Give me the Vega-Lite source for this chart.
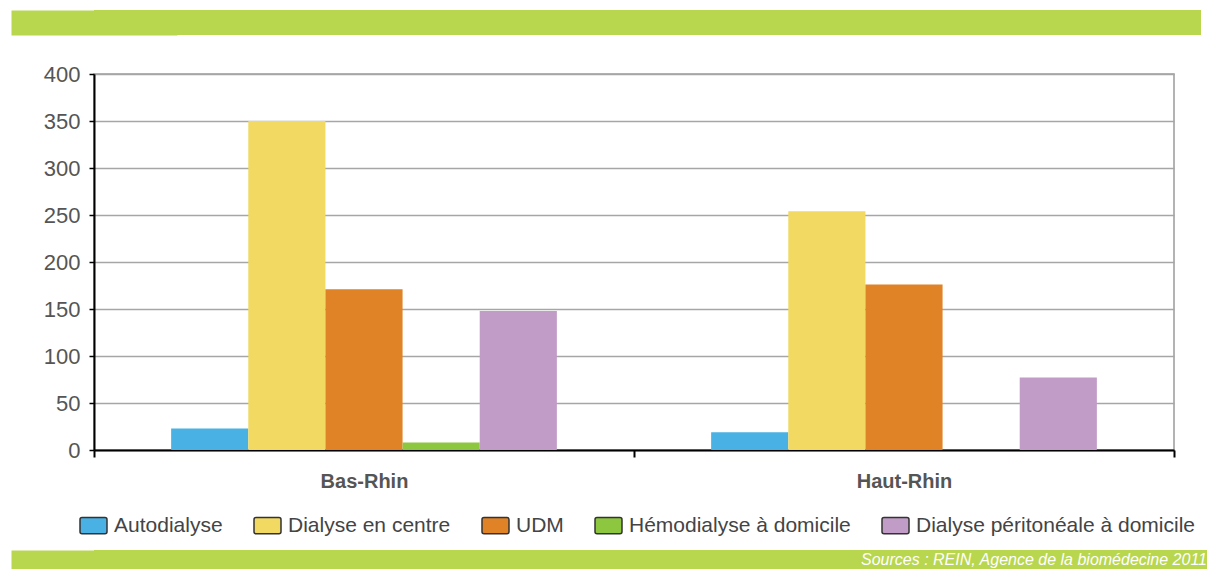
{
  "$schema": "https://vega.github.io/schema/vega-lite/v6.json",
  "padding": {"left": 10, "top": 10, "right": 0, "bottom": 0},
  "background": "white",
  "config": {"font": "Liberation Sans", "view": {"stroke": null}},
  "datasets": {
    "dialysis": [
      {"departement": "Bas-Rhin", "mode": "Autodialyse", "patients": 23},
      {"departement": "Bas-Rhin", "mode": "Dialyse en centre", "patients": 350},
      {"departement": "Bas-Rhin", "mode": "UDM", "patients": 171},
      {"departement": "Bas-Rhin", "mode": "Hémodialyse à domicile", "patients": 8},
      {"departement": "Bas-Rhin", "mode": "Dialyse péritonéale à domicile", "patients": 148},
      {"departement": "Haut-Rhin", "mode": "Autodialyse", "patients": 19},
      {"departement": "Haut-Rhin", "mode": "Dialyse en centre", "patients": 254},
      {"departement": "Haut-Rhin", "mode": "UDM", "patients": 176},
      {"departement": "Haut-Rhin", "mode": "Hémodialyse à domicile", "patients": 0},
      {"departement": "Haut-Rhin", "mode": "Dialyse péritonéale à domicile", "patients": 77}
    ]
  },
  "spacing": 12,
  "resolve": {"scale": {"color": "independent"}, "legend": {"color": "independent"}},
  "vconcat": [
    {
      "spacing": 27,
      "resolve": {"scale": {"color": "independent"}, "legend": {"color": "independent"}},
      "vconcat": [
        {
          "width": 1107,
          "height": 25,
          "data": {"values": []},
          "mark": "point",
          "encoding": {
            "y": {
              "field": "band",
              "type": "quantitative",
              "scale": {"domain": [0, 1]},
              "axis": {
                "title": null, "labels": false, "ticks": false, "grid": false,
                "domainColor": "#b8d64e", "domainWidth": 166, "domainCap": "butt"
              }
            }
          },
          "view": {"fill": "#b8d64e", "stroke": null}
        },
        {
          "width": 1080,
          "height": 376,
          "data": {"name": "dialysis"},
          "view": {"stroke": "#9a9a9a", "strokeWidth": 1.5},
          "mark": {"type": "bar"},
          "encoding": {
            "x": {
              "field": "departement",
              "type": "nominal",
              "sort": ["Bas-Rhin", "Haut-Rhin"],
              "scale": {"paddingInner": 0, "paddingOuter": 0},
              "axis": {
                "title": null,
                "labelAngle": 0,
                "labelFontWeight": "bold",
                "labelFontSize": 20,
                "labelColor": "#555555",
                "labelPadding": 14,
                "domainColor": "black",
                "domainWidth": 2,
                "tickColor": "black",
                "tickWidth": 2,
                "tickSize": 7,
                "tickBand": "extent",
                "grid": false
              }
            },
            "xOffset": {
              "field": "mode",
              "type": "nominal",
              "sort": ["Autodialyse", "Dialyse en centre", "UDM", "Hémodialyse à domicile", "Dialyse péritonéale à domicile"],
              "scale": {"paddingInner": 0, "paddingOuter": 1}
            },
            "y": {
              "field": "patients",
              "type": "quantitative",
              "scale": {"domain": [0, 400]},
              "axis": {
                "title": null,
                "values": [0, 50, 100, 150, 200, 250, 300, 350, 400],
                "labelFontSize": 22,
                "labelColor": "#555555",
                "labelPadding": 9,
                "tickSize": 5,
                "tickColor": "black",
                "tickWidth": 1.5,
                "domainColor": "black",
                "domainWidth": 2,
                "gridColor": "#a6a6a6",
                "gridWidth": 1.5,
                "minExtent": 83,
                "maxExtent": 83
              }
            },
            "color": {
              "field": "mode",
              "type": "nominal",
              "scale": {
                "domain": ["Autodialyse", "Dialyse en centre", "UDM", "Hémodialyse à domicile", "Dialyse péritonéale à domicile"],
                "range": ["#4ab1e4", "#f2d962", "#e08226", "#8dc63f", "#c09cc6"]
              },
              "legend": {
                "title": null,
                "orient": "none",
                "legendX": -15,
                "legendY": 437,
                "direction": "horizontal",
                "columns": 5,
                "symbolType": "M-0.85,-0.6 H0.85 Q1,-0.6 1,-0.45 V0.45 Q1,0.6 0.85,0.6 H-0.85 Q-1,0.6 -1,0.45 V-0.45 Q-1,-0.6 -0.85,-0.6 Z",
                "symbolSize": 729,
                "symbolStrokeColor": "#333333",
                "symbolStrokeWidth": 1.5,
                "symbolOpacity": 1,
                "labelFontSize": 21,
                "labelColor": "#444444",
                "labelOffset": 6,
                "labelLimit": 0,
                "columnPadding": 28
              }
            }
          }
        }
      ]
    },
    {
      "width": 1113,
      "height": 19,
      "data": {"values": []},
      "mark": "point",
      "encoding": {
        "y": {
          "field": "band",
          "type": "quantitative",
          "scale": {"domain": [0, 1]},
          "axis": {
            "title": null, "labels": false, "ticks": false, "grid": false,
            "domainColor": "#b8d64e", "domainWidth": 166, "domainCap": "butt"
          }
        }
      },
      "view": {"fill": "#b8d64e", "stroke": null},
      "title": {
        "text": "Sources : REIN, Agence de la biomédecine 2011",
        "anchor": "end",
        "orient": "top",
        "frame": "group",
        "offset": -18,
        "color": "white",
        "fontSize": 16,
        "fontStyle": "italic",
        "fontWeight": "normal",
        "font": "Liberation Sans"
      }
    }
  ]
}
